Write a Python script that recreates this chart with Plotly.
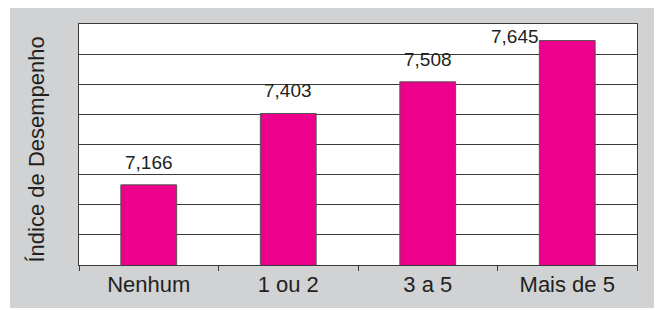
import plotly.graph_objects as go

categories = ["Nenhum", "1 ou 2", "3 a 5", "Mais de 5"]
values = [7.166, 7.403, 7.508, 7.645]
value_labels = ["7,166", "7,403", "7,508", "7,645"]
y_title = "Índice de Desempenho"

FONT = "Liberation Sans, Arial, sans-serif"
GRID = "#3a3a3a"
TXT = "#231f20"

fig = go.Figure()
fig.add_trace(go.Bar(
    x=categories, y=values, width=0.4,
    marker=dict(color="#EC008C", line=dict(color="#555555", width=1)),
    hoverinfo="skip",
))

for i, (c, v, t) in enumerate(zip(categories, values, value_labels)):
    if i == len(categories) - 1:
        fig.add_annotation(x=c, y=v, text=t, showarrow=False, xanchor="right",
                           yanchor="bottom", xshift=-26, yshift=-8,
                           font=dict(family=FONT, size=19, color=TXT))
    else:
        fig.add_annotation(x=c, y=v, text=t, showarrow=False, xanchor="center",
                           yanchor="bottom", yshift=10,
                           font=dict(family=FONT, size=19, color=TXT))

fig.add_annotation(xref="paper", yref="paper", x=0, y=0.5, xanchor="center",
                   yanchor="middle", xshift=-43, yshift=-5, textangle=-90,
                   text=y_title, showarrow=False,
                   font=dict(family=FONT, size=22, color=TXT))

fig.update_layout(
    width=654, height=302,
    margin=dict(l=71, r=25, t=16, b=45),
    paper_bgcolor="white", plot_bgcolor="white",
    showlegend=False,
    shapes=[
        dict(type="rect", xref="paper", yref="paper", x0=-0.1237, x1=1.0412,
             y0=-0.178, y1=1.066, fillcolor="#d1d2d4", line=dict(width=0), layer="below"),
        dict(type="rect", xref="paper", yref="paper", x0=0, x1=1, y0=0, y1=1,
             fillcolor="white", line=dict(width=0), layer="below"),
    ],
    xaxis=dict(
        showline=True, linecolor=GRID, linewidth=1, mirror=True,
        ticks="outside", ticklen=5, tickcolor=GRID, tickson="boundaries",
        showgrid=False, automargin=False,
        tickfont=dict(family=FONT, size=22, color=TXT),
    ),
    yaxis=dict(
        range=[6.9, 7.7], dtick=0.1, tick0=6.9,
        showticklabels=False, ticks="",
        showgrid=True, gridcolor=GRID, gridwidth=1,
        showline=True, linecolor=GRID, linewidth=1, mirror=True,
        zeroline=False, automargin=False,
    ),
)

fig.write_html("out.html")
